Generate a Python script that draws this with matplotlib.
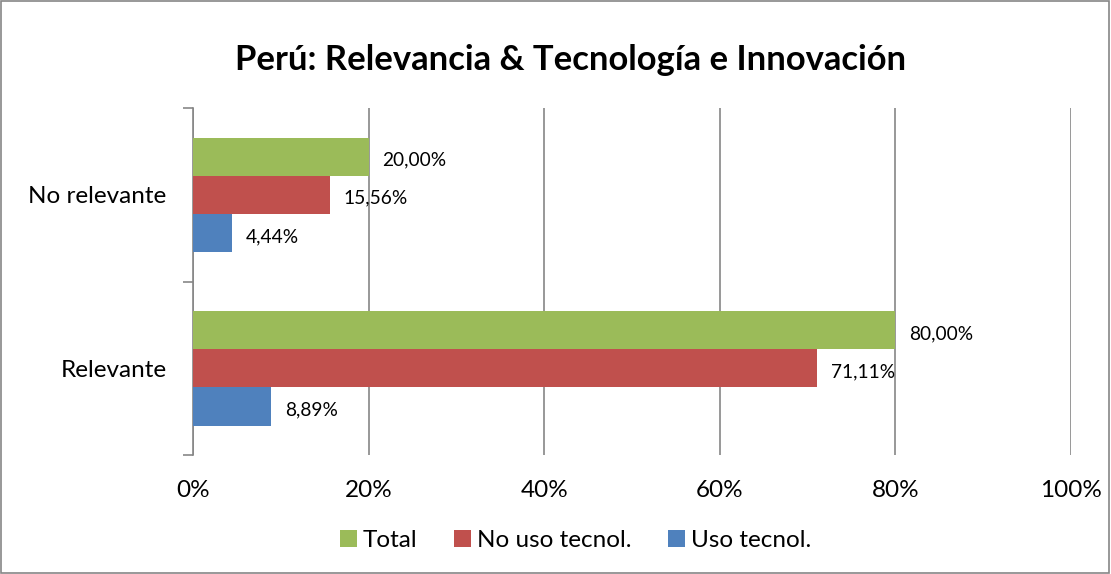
import numpy as np
import matplotlib
matplotlib.use("Agg")
import matplotlib.pyplot as plt
from matplotlib.patches import Rectangle

# data
categories = ["Relevante", "No relevante"]
series_names = ["Total", "No uso tecnol.", "Uso tecnol."]
total = [80.00, 20.00]
no_uso = [71.11, 15.56]
uso = [8.89, 4.44]
xticks = [0, 20, 40, 60, 80, 100]

colors = ["#9BBB59", "#C0504D", "#4F81BD"]

plt.rcParams['font.family'] = ['Lato', 'DejaVu Sans']

fig = plt.figure(figsize=(11.11, 5.74), dpi=100)
ax = fig.add_axes([0.1737, 0.2073, 0.964 - 0.1737, 0.8118 - 0.2073])

y = np.arange(len(categories))
h = 0.22
offsets = [h, 0, -h]
for vals, off, col, name in zip([total, no_uso, uso], offsets, colors, series_names):
    ax.barh(y + off, vals, height=h, color=col, label=name, zorder=3)
    for yi, v in zip(y, vals):
        ax.annotate(f"{v:.2f}%".replace(".", ","), (v, yi + off - 0.02),
                    xytext=(10, 0), textcoords="offset points",
                    va="center", ha="left", fontsize=13.8, zorder=4)

ax.set_xlim(0, 100)
ax.set_ylim(-0.5, 1.5)
ax.set_xticks(xticks)
ax.set_xticklabels([f"{t}%" for t in xticks], fontsize=17.5)
ax.set_yticks(y)
ax.set_yticklabels(categories, fontsize=17.5)
ax.tick_params(axis="x", length=0, pad=18)
ax.tick_params(axis="y", length=0, pad=19)
# category separators on the y axis
ax.set_yticks([-0.5, 0.5, 1.5], minor=True)
ax.tick_params(axis="y", which="minor", length=7, color="#888888", width=1.2)
ax.grid(axis="x", color="#868686", linewidth=1.2, zorder=0)
for s in ["top", "right", "bottom"]:
    ax.spines[s].set_visible(False)
ax.spines["left"].set_color("#868686")
ax.spines["left"].set_linewidth(1.2)

fig.text(0.514, 0.895, "Perú: Relevancia & Tecnología e Innovación",
         ha="center", va="center", fontsize=24.9, fontweight="bold")

fig.legend(loc="center", bbox_to_anchor=(0.518, 0.059), ncol=3, frameon=False,
           fontsize=17.5, handlelength=0.7, handleheight=0.7, handletextpad=0.25,
           columnspacing=1.5)

fig.patches.append(Rectangle((0.001, 0.001), 0.997, 0.997, transform=fig.transFigure,
                             fill=False, edgecolor="#868686", linewidth=1.2))

fig.savefig("out.png", dpi=100)
